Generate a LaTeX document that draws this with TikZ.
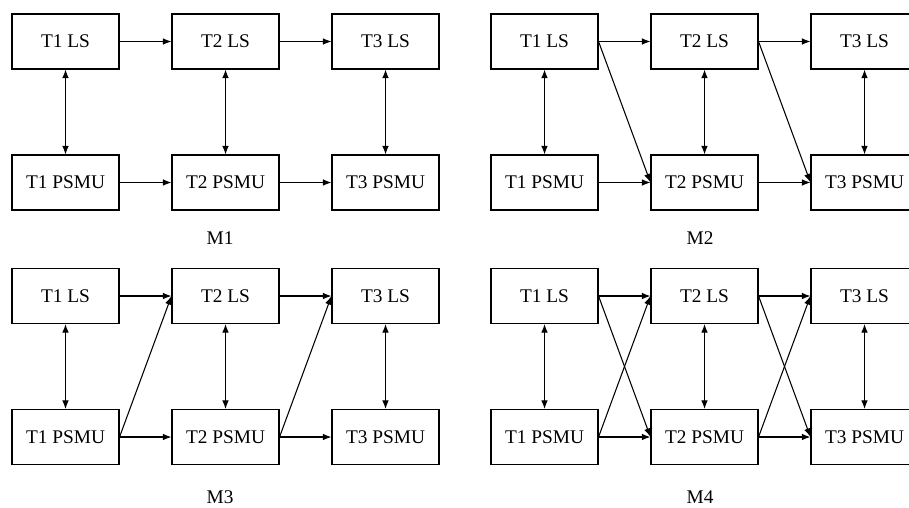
\documentclass[tikz,border=0pt]{standalone}
\usepackage{fontspec}
\setmainfont{Liberation Serif}
\usetikzlibrary{arrows.meta}

\tikzset{
  tbox/.style={draw, line width=0.8pt, minimum width=80.25pt, minimum height=41.25pt,
    inner sep=0pt, font=\fontsize{14.5}{17}\selectfont},
  link/.style={line width=0.8pt, -{Latex[length=6.5pt,width=5pt]}},
  twoway/.style={line width=0.8pt, {Latex[length=6.5pt,width=5pt]}-{Latex[length=6.5pt,width=5pt]}},
  caption/.style={font=\fontsize{14.5}{17}\selectfont},
}

\begin{document}
\begin{tikzpicture}[x=0.75pt,y=-0.75pt]
    \useasboundingbox (0,0) rectangle (909,507);

    % M1
    \node[tbox] (LS1a) at (65.5,41.5) {T1 LS};
    \node[tbox] (LS2a) at (225.5,41.5) {T2 LS};
    \node[tbox] (LS3a) at (385.5,41.5) {T3 LS};
    \node[tbox] (PS1a) at (65.5,182.5) {T1 PSMU};
    \node[tbox] (PS2a) at (225.5,182.5) {T2 PSMU};
    \node[tbox] (PS3a) at (385.5,182.5) {T3 PSMU};
    \node[caption] (Ma) at (220,238) {M1};

    \draw[link] (LS1a) -- (LS2a);
    \draw[link] (LS2a) -- (LS3a);
    \draw[link] (PS1a) -- (PS2a);
    \draw[link] (PS2a) -- (PS3a);
    \draw[twoway] (LS1a) -- (PS1a);
    \draw[twoway] (LS2a) -- (PS2a);
    \draw[twoway] (LS3a) -- (PS3a);

    % M2
    \begin{scope}[shift={(479,0)}]
        \node[tbox] (LS1b) at (65.5,41.5) {T1 LS};
        \node[tbox] (LS2b) at (225.5,41.5) {T2 LS};
        \node[tbox] (LS3b) at (385.5,41.5) {T3 LS};
        \node[tbox] (PS1b) at (65.5,182.5) {T1 PSMU};
        \node[tbox] (PS2b) at (225.5,182.5) {T2 PSMU};
        \node[tbox] (PS3b) at (385.5,182.5) {T3 PSMU};
        \node[caption] (Mb) at (221,238) {M2};
    \end{scope}

    \draw[link] (LS1b) -- (LS2b);
    \draw[link] (LS2b) -- (LS3b);
    \draw[link] (PS1b) -- (PS2b);
    \draw[link] (PS2b) -- (PS3b);
    \draw[twoway] (LS1b) -- (PS1b);
    \draw[twoway] (LS2b) -- (PS2b);
    \draw[twoway] (LS3b) -- (PS3b);
    \draw[link] (LS1b.east) -- (PS2b.west);
    \draw[link] (LS2b.east) -- (PS3b.west);

    % M3
    \begin{scope}[shift={(0,254.5)}]
        \node[tbox] (LS1c) at (65.5,41.5) {T1 LS};
        \node[tbox] (LS2c) at (225.5,41.5) {T2 LS};
        \node[tbox] (LS3c) at (385.5,41.5) {T3 LS};
        \node[tbox] (PS1c) at (65.5,182.5) {T1 PSMU};
        \node[tbox] (PS2c) at (225.5,182.5) {T2 PSMU};
        \node[tbox] (PS3c) at (385.5,182.5) {T3 PSMU};
        \node[caption] (Mc) at (220,243) {M3};
    \end{scope}

    \draw[link] (LS1c) -- (LS2c);
    \draw[link] (LS2c) -- (LS3c);
    \draw[link] (PS1c) -- (PS2c);
    \draw[link] (PS2c) -- (PS3c);
    \draw[twoway] (LS1c) -- (PS1c);
    \draw[twoway] (LS2c) -- (PS2c);
    \draw[twoway] (LS3c) -- (PS3c);
    \draw[link] (PS1c.east) -- (LS2c.west);
    \draw[link] (PS2c.east) -- (LS3c.west);

    % M4
    \begin{scope}[shift={(479,254.5)}]
        \node[tbox] (LS1d) at (65.5,41.5) {T1 LS};
        \node[tbox] (LS2d) at (225.5,41.5) {T2 LS};
        \node[tbox] (LS3d) at (385.5,41.5) {T3 LS};
        \node[tbox] (PS1d) at (65.5,182.5) {T1 PSMU};
        \node[tbox] (PS2d) at (225.5,182.5) {T2 PSMU};
        \node[tbox] (PS3d) at (385.5,182.5) {T3 PSMU};
        \node[caption] (Md) at (221,243) {M4};
    \end{scope}

    \draw[link] (LS1d) -- (LS2d);
    \draw[link] (LS2d) -- (LS3d);
    \draw[link] (PS1d) -- (PS2d);
    \draw[link] (PS2d) -- (PS3d);
    \draw[twoway] (LS1d) -- (PS1d);
    \draw[twoway] (LS2d) -- (PS2d);
    \draw[twoway] (LS3d) -- (PS3d);
    \draw[link] (LS1d.east) -- (PS2d.west);
    \draw[link] (LS2d.east) -- (PS3d.west);
    \draw[link] (PS1d.east) -- (LS2d.west);
    \draw[link] (PS2d.east) -- (LS3d.west);
\end{tikzpicture}
\end{document}
